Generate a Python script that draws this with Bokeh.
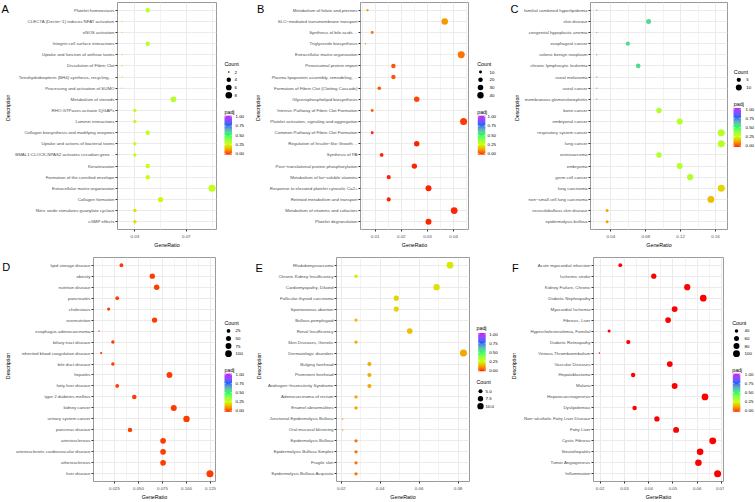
import numpy as np
from bokeh.plotting import figure
from bokeh.models import (FactorRange, Range1d, ColumnDataSource, LinearColorMapper,
                          FixedTicker, PrintfTickFormatter)
from bokeh.layouts import row, column
from bokeh.embed import file_html
from bokeh.resources import INLINE
from bokeh.core.properties import value

FONT = "Liberation Sans"

# ---------------- data ----------------
a_terms = ["Platelet homeostasis", "CLEC7A (Dectin\u22121) induces NFAT activation", "eNOS activation",
           "Integrin cell surface interactions", "Uptake and function of anthrax toxins",
           "Dissolution of Fibrin Clot", "Tetrahydrobiopterin (BH4) synthesis, recycling, ...",
           "Processing and activation of SUMO", "Metabolism of steroids", "RHO GTPases activate IQGAPs",
           "Laminin interactions", "Collagen biosynthesis and modifying enzymes",
           "Uptake and actions of bacterial toxins", "BMAL1:CLOCK,NPAS2 activates circadian gene ...",
           "Keratinization", "Formation of the cornified envelope", "Extracellular matrix organization",
           "Collagen formation", "Nitric oxide stimulates guanylate cyclase", "cGMP effects"]
a_ratio = [0.04, 0.02, 0.02, 0.04, 0.02, 0.02, 0.02, 0.02, 0.06, 0.03,
           0.03, 0.04, 0.03, 0.03, 0.04, 0.04, 0.09, 0.05, 0.03, 0.03]
a_count = [4, 2, 2, 4, 2, 2, 2, 2, 6, 3, 3, 4, 3, 3, 4, 4, 9, 5, 3, 3]
a_padj = [0.30, 0.31, 0.31, 0.30, 0.31, 0.31, 0.31, 0.31, 0.30, 0.28,
          0.28, 0.27, 0.27, 0.27, 0.26, 0.26, 0.27, 0.24, 0.21, 0.21]
a_xticks = [0.03, 0.07]
a_cbreaks = [2, 4, 6, 8]

b_terms = ["Metabolism of folate and pterines", "SLC\u2212mediated transmembrane transport",
           "Synthesis of bile acids ...", "Triglyceride biosynthesis", "Extracellular matrix organization",
           "Peroxisomal protein import", "Plasma lipoprotein assembly, remodeling, ...",
           "Formation of Fibrin Clot (Clotting Cascade)", "Glycerophospholipid biosynthesis",
           "Intrinsic Pathway of Fibrin Clot Formation", "Platelet activation, signaling and aggregation",
           "Common Pathway of Fibrin Clot Formation", "Regulation of Insulin\u2212like Growth ...",
           "Synthesis of PA", "Post\u2212translational protein phosphorylation",
           "Metabolism of fat\u2212soluble vitamins", "Response to elevated platelet cytosolic Ca2+",
           "Retinoid metabolism and transport", "Metabolism of vitamins and cofactors",
           "Platelet degranulation"]
b_ratio = [0.0071, 0.0366, 0.0089, 0.0063, 0.0429, 0.0170, 0.0170, 0.0116, 0.0259, 0.0089,
           0.0438, 0.0089, 0.0259, 0.0125, 0.0250, 0.0152, 0.0304, 0.0152, 0.0402, 0.0304]
b_count = [8, 41, 10, 7, 48, 19, 19, 13, 29, 10, 49, 10, 29, 14, 28, 17, 34, 17, 45, 34]
b_padj = [0.12, 0.11, 0.07, 0.12, 0.07, 0.04, 0.04, 0.04, 0.03, 0.05,
          0.02, 0.01, 0.01, 0.01, 0.01, 0.01, 0.01, 0.01, 0.01, 0.01]
b_xticks = [0.01, 0.02, 0.03, 0.04]
b_cbreaks = [10, 20, 30, 40]

c_terms = ["familial combined hyperlipidemia", "skin disease", "congenital hypoplastic anemia",
           "esophageal cancer", "colonic benign neoplasm", "chronic lymphocytic leukemia",
           "uveal melanoma", "uveal cancer", "membranous glomerulonephritis", "bone cancer",
           "embryonal cancer", "respiratory system cancer", "lung cancer", "osteosarcoma", "embryoma",
           "germ cell cancer", "lung carcinoma", "non\u2212small cell lung carcinoma",
           "vesiculobullous skin disease", "epidermolysis bullosa"]
c_ratio = [0.0238, 0.0833, 0.0238, 0.0595, 0.0238, 0.0714, 0.0238, 0.0238, 0.0238, 0.0952,
           0.1190, 0.1667, 0.1667, 0.0952, 0.1190, 0.1310, 0.1667, 0.1548, 0.0357, 0.0357]
c_count = [2, 7, 2, 5, 2, 6, 2, 2, 2, 8, 10, 14, 14, 8, 10, 11, 14, 13, 3, 3]
c_padj = [0.56, 0.56, 0.56, 0.56, 0.56, 0.56, 0.56, 0.56, 0.56, 0.31,
          0.30, 0.30, 0.30, 0.31, 0.30, 0.31, 0.19, 0.16, 0.13, 0.13]
c_xticks = [0.04, 0.08, 0.12, 0.16]
c_cbreaks = [5, 10]

d_terms = ["lipid storage disease", "obesity", "nutrition disease", "pancreatitis", "cholestasis",
           "overnutrition", "esophagus adenocarcinoma", "biliary tract disease",
           "inherited blood coagulation disease", "bile duct disease", "hepatitis", "fatty liver disease",
           "type 2 diabetes mellitus", "kidney cancer", "urinary system cancer", "pancreas disease",
           "arteriosclerosis", "arteriosclerotic cardiovascular disease", "atherosclerosis", "liver disease"]
d_ratio = [0.0322, 0.0644, 0.0689, 0.0278, 0.0189, 0.0667, 0.0089, 0.0233, 0.0111, 0.0233,
           0.0822, 0.0278, 0.0456, 0.0867, 0.1000, 0.0411, 0.0756, 0.0756, 0.0756, 0.1244]
d_count = [29, 58, 62, 25, 17, 60, 8, 21, 10, 21, 74, 25, 41, 78, 90, 37, 68, 68, 68, 112]
d_padj = [0.02] * 20
d_xticks = [0.025, 0.050, 0.075, 0.100, 0.125]
d_cbreaks = [25, 50, 75, 100]

e_terms = ["Rhabdomyosarcoma", "Chronic Kidney Insufficiency", "Cardiomyopathy, Dilated",
           "Follicular thyroid carcinoma", "Spontaneous abortion", "Bullous pemphigoid",
           "Renal Insufficiency", "Skin Diseases, Genetic", "Dermatologic disorders", "Bulging forehead",
           "Prominent forehead", "Androgen\u2212Insensitivity Syndrome", "Adenocarcinoma of rectum",
           "Enamel abnormalities", "Junctional Epidermolysis Bullosa", "Oral mucosal blistering",
           "Epidermolysis Bullosa", "Epidermolysis Bullosa Simplex", "Fragile skin",
           "Epidermolysis Bullosa Acquisita"]
e_ratio = [0.0759, 0.0276, 0.0690, 0.0483, 0.0483, 0.0276, 0.0552, 0.0276, 0.0828, 0.0345,
           0.0345, 0.0345, 0.0276, 0.0276, 0.0207, 0.0207, 0.0276, 0.0276, 0.0276, 0.0276]
e_count = [11, 4, 10, 7, 7, 4, 8, 4, 12, 5, 5, 5, 4, 4, 3, 3, 4, 4, 4, 4]
e_padj = [0.22, 0.22, 0.21, 0.19, 0.19, 0.16, 0.16, 0.14, 0.13, 0.14,
          0.14, 0.14, 0.13, 0.13, 0.11, 0.11, 0.07, 0.07, 0.07, 0.07]
e_xticks = [0.02, 0.04, 0.06, 0.08]
e_cbreaks = [5.0, 7.5, 10.0]

f_terms = ["Acute myocardial infarction", "Ischemic stroke", "Kidney Failure, Chronic",
           "Diabetic Nephropathy", "Myocardial Ischemia", "Fibrosis, Liver",
           "Hypercholesterolemia, Familial", "Diabetic Retinopathy", "Venous Thromboembolism",
           "Vascular Diseases", "Hepatoblastoma", "Malaria", "Hepatocarcinogenesis", "Dyslipidemias",
           "Non\u2212alcoholic Fatty Liver Disease", "Fatty Liver", "Cystic Fibrosis", "Steatohepatitis",
           "Tumor Angiogenesis", "Inflammation"]
f_ratio = [0.0283, 0.0421, 0.0559, 0.0625, 0.0507, 0.0480, 0.0237, 0.0316, 0.0197, 0.0487,
           0.0336, 0.0507, 0.0632, 0.0342, 0.0434, 0.0513, 0.0664, 0.0612, 0.0605, 0.0684]
f_count = [43, 64, 85, 95, 77, 73, 36, 48, 30, 74, 51, 77, 96, 52, 66, 78, 101, 93, 92, 104]
f_padj = [0.001] * 20
f_xticks = [0.02, 0.03, 0.04, 0.05, 0.06, 0.07]
f_cbreaks = [40, 60, 80, 100]

padj_ticks = [0.0, 0.25, 0.5, 0.75, 1.0]
rainbow5 = ["#FF0000", "#CCFF00", "#00FF66", "#0066FF", "#CC00FF"]

# ---------------- colour palette (Lab interpolation like ggplot) ----------------
_M = np.array([[0.4124564, 0.3575761, 0.1804375],
               [0.2126729, 0.7151522, 0.0721750],
               [0.0193339, 0.1191920, 0.9503041]])
_W = _M @ np.ones(3)


def _to_lab(hexc):
    c = np.array([int(hexc[i:i + 2], 16) / 255 for i in (1, 3, 5)])
    lin = np.where(c <= 0.04045, c / 12.92, ((c + 0.055) / 1.055) ** 2.4)
    xyz = (_M @ lin) / _W
    d = 6 / 29
    f = np.where(xyz > d ** 3, np.cbrt(xyz), xyz / (3 * d * d) + 4 / 29)
    return np.array([116 * f[1] - 16, 500 * (f[0] - f[1]), 200 * (f[1] - f[2])])


def _to_hex(lab):
    L, a, b = lab
    fy = (L + 16) / 116
    f = np.array([fy + a / 500, fy, fy - b / 200])
    d = 6 / 29
    xyz = np.where(f > d, f ** 3, 3 * d * d * (f - 4 / 29)) * _W
    lin = np.clip(np.linalg.solve(_M, xyz), 0, 1)
    c = np.where(lin <= 0.0031308, 12.92 * lin, 1.055 * lin ** (1 / 2.4) - 0.055)
    c = np.clip(np.round(c * 255), 0, 255).astype(int)
    return "#%02x%02x%02x" % tuple(c)


def lab_palette(stops, n=256):
    labs = [_to_lab(s) for s in stops]
    pos = np.linspace(0, 1, len(stops))
    out = []
    for t in np.linspace(0, 1, n):
        k = min(int(np.searchsorted(pos, t, side="right")) - 1, len(stops) - 2)
        u = (t - pos[k]) / (pos[k + 1] - pos[k])
        out.append(_to_hex(labs[k] * (1 - u) + labs[k + 1] * u))
    return out


PALETTE = lab_palette(rainbow5)


def dot_size(c, cmin, cmax):
    c = np.asarray(c, float)
    t = np.clip((c - cmin) / (cmax - cmin), 0, 1)
    s = 1 + 5 * np.sqrt(t)
    return 0.39 * (2.845 * s + 0.94)


def pixel_fig(w, H):
    f = figure(width=w, height=H, x_range=Range1d(0, w), y_range=Range1d(0, H),
               toolbar_location=None, output_backend="svg", min_border=0,
               min_border_left=0, min_border_right=0, min_border_top=0, min_border_bottom=0,
               x_axis_location=None, y_axis_location=None)
    f.outline_line_color = None
    f.xgrid.visible = False
    f.ygrid.visible = False
    return f


def build(letter, terms, ratio, count, padj, xticks, xfmt, cbreaks, cfmt,
          sw, mw, lw, H, top_b, bot_b, box_left, letter_xy, desc_x, lg, padj_first=False):
    mapper = LinearColorMapper(palette=PALETTE, low=0, high=1)
    cmin, cmax = min(count), max(count)
    fb = H - bot_b  # frame bottom (from top)
    cen = (top_b + fb) / 2

    # ---- left strip: panel letter + y axis title ----
    s = pixel_fig(sw, H)
    s.text(x=[letter_xy[0]], y=[H - letter_xy[1]], text=[letter], text_font=value(FONT),
           text_font_size="11px", text_baseline="middle", text_align="left", text_color="black")
    s.text(x=[desc_x], y=[H - cen], text=["Description"], angle=np.pi / 2, text_font=value(FONT),
           text_font_size="5.3px", text_baseline="middle", text_align="center", text_color="black")

    # ---- main dot plot ----
    src = ColumnDataSource(dict(term=terms, ratio=ratio, count=count, padj=padj,
                                size=dot_size(count, cmin, cmax)))
    x0, x1 = min(ratio), max(ratio)
    pad = (x1 - x0) * 0.05
    p = figure(width=mw, height=H, x_range=Range1d(x0 - pad, x1 + pad),
               y_range=FactorRange(factors=list(reversed(terms)), range_padding=0.2,
                                   range_padding_units="absolute"),
               toolbar_location=None, output_backend="svg",
               min_border_top=top_b, min_border_bottom=bot_b, min_border_right=1,
               min_border_left=box_left - sw)
    p.scatter("ratio", "term", source=src, size="size",
              fill_color={"field": "padj", "transform": mapper}, line_color=None)
    step = xticks[1] - xticks[0]
    minor = [xticks[0] - step / 2 + k * step for k in range(len(xticks) + 1)]
    p.xaxis.ticker = FixedTicker(ticks=xticks, minor_ticks=minor)
    p.xaxis.formatter = PrintfTickFormatter(format=xfmt)
    p.xaxis.axis_label = "GeneRatio"
    for ax in (p.xaxis[0], p.yaxis[0]):
        ax.axis_line_color = None
        ax.major_tick_line_color = "#333333"
        ax.major_tick_out = 2
        ax.major_tick_in = 0
        ax.minor_tick_line_color = None
        ax.major_label_text_font = FONT
        ax.major_label_text_font_size = "4.4px"
        ax.major_label_text_color = "#4d4d4d"
        ax.major_label_standoff = 1
        ax.axis_label_text_font = FONT
        ax.axis_label_text_font_size = "5.3px"
        ax.axis_label_text_font_style = "normal"
        ax.axis_label_text_color = "black"
        ax.axis_label_standoff = 1
    p.xgrid.grid_line_color = "#ebebeb"
    p.xgrid.minor_grid_line_color = "#f3f3f3"
    p.ygrid.grid_line_color = "#ebebeb"
    p.outline_line_color = "#9a9a9a"

    # ---- legend figure ----
    lf = pixel_fig(lw, H)
    tx, kx, lx, bx, blx = lg  # title x, dot x, label x, bar x, bar-label x
    n = len(cbreaks)
    c0 = cen + 1
    if padj_first:
        span = 7.4 + 40.6 + 13.7 + 10 + 8.4 * (n - 1)
        p_t = c0 - span / 2
        v1 = p_t + 7.4
        v0 = v1 + 40.6
        c_t = v0 + 13.7
        dots = [c_t + 10 + 8.4 * i for i in range(n)]
    else:
        span = 9 + 8.5 * (n - 1) + 18 + 5.7 + 40.5
        c_t = c0 - span / 2
        dots = [c_t + 9 + 8.5 * i for i in range(n)]
        p_t = dots[-1] + 18
        v1 = p_t + 5.7
        v0 = v1 + 40.5

    def Y(v):
        return H - v

    tsize, lsize = "5.3px", "4.4px"
    lf.text(x=[tx, tx], y=[Y(c_t), Y(p_t)], text=["Count", "padj"], text_font=value(FONT),
            text_font_size=tsize, text_baseline="middle", text_align="left", text_color="black")
    lf.scatter(x=[kx] * n, y=[Y(d) for d in dots], size=dot_size(cbreaks, cmin, cmax),
               color="black", line_color=None)
    lf.text(x=[lx] * n, y=[Y(d) for d in dots], text=[cfmt % v for v in cbreaks],
            text_font=value(FONT), text_font_size=lsize, text_baseline="middle",
            text_align="left", text_color="black")
    bw = 7.5
    ramp = np.linspace(0, 1, 200).reshape(-1, 1)
    lf.image(image=[ramp], x=bx, y=Y(v0 + 1.2), dw=bw, dh=(v0 - v1) + 2.4, color_mapper=mapper)
    tick_y = [Y(v0 - t * (v0 - v1)) for t in padj_ticks]
    m = len(padj_ticks)
    lf.segment(x0=[bx] * m, x1=[bx + 1.5] * m, y0=tick_y, y1=tick_y, line_color="white", line_width=0.6)
    lf.segment(x0=[bx + bw - 1.5] * m, x1=[bx + bw] * m, y0=tick_y, y1=tick_y, line_color="white",
               line_width=0.6)
    lf.text(x=[blx] * m, y=tick_y, text=["%.2f" % t for t in padj_ticks], text_font=value(FONT),
            text_font_size=lsize, text_baseline="middle", text_align="left", text_color="black")
    return [s, p, lf]


H1, H2 = 250, 252
A = build("A", a_terms, a_ratio, a_count, a_padj, a_xticks, "%.2f", a_cbreaks, "%d",
          12, 205, 33, H1, 2, 20, 113, (1, 6.7), 7.3, (7, 11.3, 17, 7, 18))
B = build("B", b_terms, b_ratio, b_count, b_padj, b_xticks, "%.2f", b_cbreaks, "%d",
          16, 203, 31, H1, 2, 20, 105, (6.5, 6.7), 7.3, (7.7, 11, 20, 8.3, 18))
C = build("C", c_terms, c_ratio, c_count, c_padj, c_xticks, "%.2f", c_cbreaks, "%d",
          21, 207, 27, H1, 2, 20, 88, (10, 7.7), 16.7, (5.3, 10.3, 17.7, 5, 17))
D = build("D", d_terms, d_ratio, d_count, d_padj, d_xticks, "%.3f", d_cbreaks, "%d",
          13, 203, 34, H2, 7, 15, 87, (1.7, 11), 7.3, (8, 12, 19, 8, 19))
E = build("E", e_terms, e_ratio, e_count, e_padj, e_xticks, "%.2f", e_cbreaks, "%.1f",
          14, 206, 30, H2, 7, 15, 82, (5, 12), 8.7, (6, 10, 15, 7.7, 18.7), padj_first=True)
F = build("F", f_terms, f_ratio, f_count, f_padj, f_xticks, "%.2f", f_cbreaks, "%d",
          20, 204, 31, H2, 7, 15, 87, (11.5, 12), 13.5, (7.7, 12, 20, 8.3, 20.3))

layout = column(row(*A, *B, *C), row(*D, *E, *F))
open("out.html", "w").write(file_html(layout, INLINE))
